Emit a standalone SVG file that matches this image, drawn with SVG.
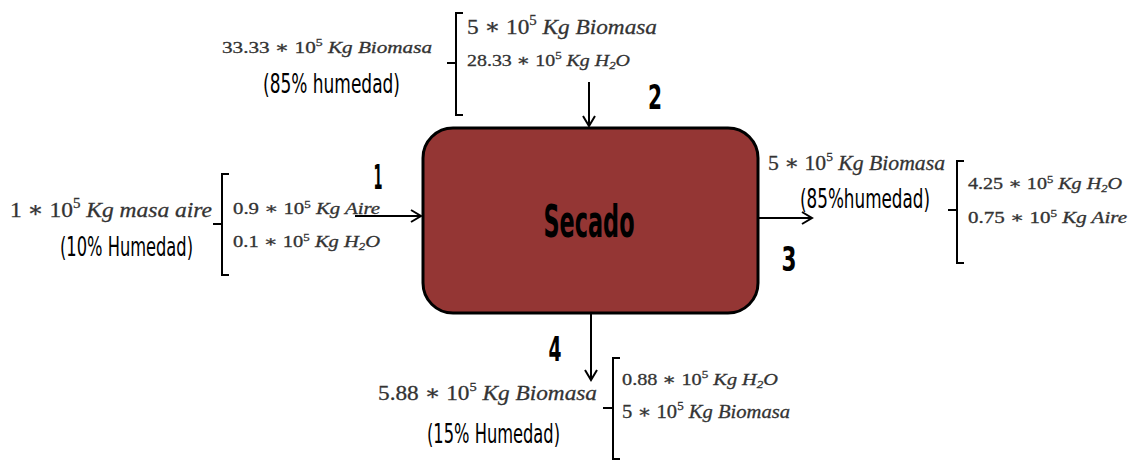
<svg xmlns="http://www.w3.org/2000/svg" width="1135" height="461" viewBox="0 0 1135 461">
<style>
.m{font-family:"Liberation Serif","DejaVu Serif",serif;fill:#333;stroke:#333;stroke-width:0.3}
.i{font-style:italic}
.h{font-family:"DejaVu Sans Condensed","Liberation Sans",sans-serif;fill:#000;font-size:22px}
.n{font-family:"DejaVu Sans Condensed","Liberation Sans",sans-serif;font-weight:bold;fill:#000;font-size:33px}
.br{fill:none;stroke:#000;stroke-width:2}
.ar{fill:none;stroke:#000;stroke-width:2;marker-end:url(#ah)}
</style>
<defs>
<marker id="ah" markerWidth="14" markerHeight="14" refX="12" refY="7" orient="auto" markerUnits="userSpaceOnUse">
<polyline points="2,1 12,7 2,13" fill="none" stroke="#000" stroke-width="2"/>
</marker>
</defs>
<rect width="1135" height="461" fill="#fff"/>
<g id="secado">
<rect x="423" y="128" width="335" height="185" rx="30" ry="30" fill="#943634" stroke="#000" stroke-width="3"/>
<text x="589" y="237" text-anchor="middle" font-family="'DejaVu Sans Condensed','Liberation Sans',sans-serif" font-weight="bold" font-size="44" textLength="91" lengthAdjust="spacingAndGlyphs">Secado</text>
</g>
<g id="connectors">
<line class="ar" x1="589" y1="82" x2="589" y2="126"/>
<line class="ar" x1="355" y1="216" x2="421" y2="216"/>
<line class="ar" x1="758" y1="218" x2="812" y2="218"/>
<line class="ar" x1="591" y1="313" x2="591" y2="380"/>
</g>
<g id="stream2">
<text class="m" x="222" y="53" font-size="17" textLength="210" lengthAdjust="spacingAndGlyphs">33.33 ∗ 10<tspan font-size="11" dy="-7">5</tspan><tspan dy="7" class="i"> Kg  Biomasa</tspan></text>
<text class="h" transform="translate(263,93) scale(1,1.18)" textLength="137" lengthAdjust="spacingAndGlyphs">(85% humedad)</text>
<path class="br" d="M463,13 H456 V115 H463 M456,63 H447"/>
<text class="m" x="467" y="34" font-size="22" textLength="190" lengthAdjust="spacingAndGlyphs">5 ∗ 10<tspan font-size="14" dy="-9">5</tspan><tspan dy="9" class="i"> Kg Biomasa</tspan></text>
<text class="m" x="467" y="66" font-size="17" textLength="163" lengthAdjust="spacingAndGlyphs">28.33 ∗ 10<tspan font-size="11" dy="-7">5</tspan><tspan dy="7" class="i"> Kg  H<tspan font-size="11" dy="3">2</tspan><tspan dy="-3">O</tspan></tspan></text>
<text class="n" x="655" y="109" text-anchor="middle" textLength="14" lengthAdjust="spacingAndGlyphs">2</text>
</g>
<g id="stream1">
<text class="m" x="10" y="217" font-size="22" textLength="202" lengthAdjust="spacingAndGlyphs">1 ∗ 10<tspan font-size="14" dy="-9">5</tspan><tspan dy="9" class="i"> Kg masa aire</tspan></text>
<text class="h" transform="translate(60,256) scale(1,1.18)" textLength="133" lengthAdjust="spacingAndGlyphs">(10% Humedad)</text>
<path class="br" d="M229,174 H222 V275 H229 M222,224 H213"/>
<text class="m" x="233" y="214" font-size="16" textLength="147" lengthAdjust="spacingAndGlyphs">0.9 ∗ 10<tspan font-size="10" dy="-6">5</tspan><tspan dy="6" class="i"> Kg Aire</tspan></text>
<text class="m" x="233" y="247" font-size="16" textLength="147" lengthAdjust="spacingAndGlyphs">0.1 ∗ 10<tspan font-size="10" dy="-6">5</tspan><tspan dy="6" class="i"> Kg H<tspan font-size="10" dy="3">2</tspan><tspan dy="-3">O</tspan></tspan></text>
<text class="n" x="378" y="189" text-anchor="middle" textLength="9" lengthAdjust="spacingAndGlyphs">1</text>
</g>
<g id="stream3">
<text class="m" x="768" y="170" font-size="21" textLength="177" lengthAdjust="spacingAndGlyphs">5 ∗ 10<tspan font-size="13" dy="-9">5</tspan><tspan dy="9" class="i"> Kg Biomasa</tspan></text>
<text class="h" transform="translate(800,208) scale(1,1.18)" textLength="130" lengthAdjust="spacingAndGlyphs">(85%humedad)</text>
<path class="br" d="M964,161 H957 V263 H964 M957,210 H948"/>
<text class="m" x="968" y="189" font-size="16" textLength="154" lengthAdjust="spacingAndGlyphs">4.25 ∗ 10<tspan font-size="10" dy="-6">5</tspan><tspan dy="6" class="i"> Kg  H<tspan font-size="10" dy="3">2</tspan><tspan dy="-3">O</tspan></tspan></text>
<text class="m" x="968" y="223" font-size="16" textLength="159" lengthAdjust="spacingAndGlyphs">0.75 ∗ 10<tspan font-size="10" dy="-6">5</tspan><tspan dy="6" class="i"> Kg  Aire</tspan></text>
<text class="n" x="789" y="271" text-anchor="middle" textLength="15" lengthAdjust="spacingAndGlyphs">3</text>
</g>
<g id="stream4">
<text class="m" x="378" y="400" font-size="21" textLength="219" lengthAdjust="spacingAndGlyphs">5.88 ∗ 10<tspan font-size="13" dy="-9">5</tspan><tspan dy="9" class="i"> Kg Biomasa</tspan></text>
<text class="h" transform="translate(427,443) scale(1,1.18)" textLength="133" lengthAdjust="spacingAndGlyphs">(15% Humedad)</text>
<path class="br" d="M620,358 H613 V459 H620 M613,408 H603"/>
<text class="m" x="622" y="385" font-size="17" textLength="156" lengthAdjust="spacingAndGlyphs">0.88 ∗ 10<tspan font-size="11" dy="-7">5</tspan><tspan dy="7" class="i"> Kg  H<tspan font-size="11" dy="3">2</tspan><tspan dy="-3">O</tspan></tspan></text>
<text class="m" x="622" y="418" font-size="19" textLength="168" lengthAdjust="spacingAndGlyphs">5 ∗ 10<tspan font-size="12" dy="-8">5</tspan><tspan dy="8" class="i"> Kg Biomasa</tspan></text>
<text class="n" x="555" y="361" text-anchor="middle" textLength="13" lengthAdjust="spacingAndGlyphs">4</text>
</g>
</svg>
